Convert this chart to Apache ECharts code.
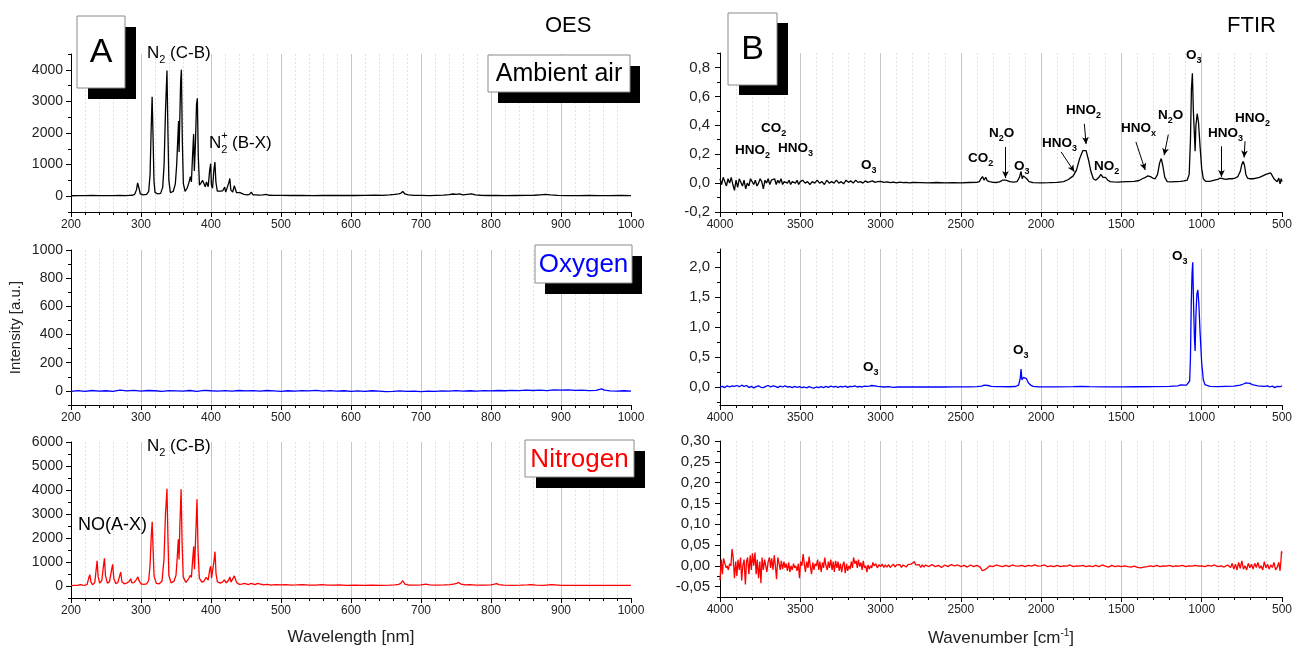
<!DOCTYPE html>
<html>
<head>
<meta charset="utf-8">
<script src="https://cdn.jsdelivr.net/npm/echarts@6/dist/echarts.min.js"></script>
<style>html,body{margin:0;background:#fff}#c{width:1295px;height:650px}</style>
</head>
<body>
<div id="c"></div>
<script>
// OES spectra [wavelength nm, intensity a.u.]
const oesAir = [[200,15],[210,20],[220,18],[230,22],[240,19],[250,21],[260,18],[270,24],[278,20],[284,28],[288,30],[291,60],[293.5,200],[295.2,420],[296.2,470],[297.5,220],[299,70],[303,45],[308,60],[311,150],[313,700],[314.5,2100],[315.9,3150],[317.2,1900],[318.5,500],[320,120],[324,70],[328,90],[331,280],[333,1000],[335,2700],[337.1,3980],[338.5,2000],[339.8,500],[342,110],[346,150],[349,380],[351,1000],[352.7,1900],[353.7,2380],[354.4,1400],[355.3,2300],[356.6,3600],[357.7,4000],[359,1800],[360.5,400],[363,150],[366,260],[368.5,430],[370.5,620],[372,450],[373.5,1200],[375.2,1970],[376.2,800],[377.8,1700],[379.3,2900],[380.5,3100],[381.8,1300],[383.5,350],[386,430],[388,500],[390.5,560],[391.8,300],[393.5,450],[394.6,500],[396,300],[398,800],[399.5,1030],[400.6,350],[402.2,250],[404,800],[405.6,1080],[407,450],[409,160],[411,110],[414,160],[417,180],[419.5,290],[421,130],[423,150],[425.5,430],[426.9,560],[428.3,200],[431,130],[433.3,330],[434.8,380],[436.5,110],[439,60],[441.5,110],[443.5,50],[447,60],[449.5,110],[452,40],[455,55],[457.5,130],[460,40],[463.5,45],[466,100],[468.5,35],[474,40],[479,55],[483,30],[490,28],[500,25],[515,22],[530,26],[545,20],[560,24],[575,22],[590,28],[605,22],[620,25],[635,30],[645,25],[655,40],[662,55],[668,75],[671,90],[674,150],[677,70],[682,40],[690,28],[700,25],[712,20],[722,28],[732,35],[740,50],[746,70],[750,55],[755,75],[760,45],[766,60],[772,75],[778,40],[785,30],[795,22],[808,25],[820,20],[835,22],[850,24],[862,30],[870,45],[878,55],[885,40],[895,25],[910,20],[925,18],[940,22],[955,20],[970,18],[985,22],[1000,20]];

const oesOxygen = [[200,-3],[210,2],[220,-4],[230,3],[240,-2],[250,1],[260,-3],[270,5],[280,0],[290,4],[300,-2],[310,3],[320,1],[330,-3],[340,2],[350,0],[360,-2],[370,3],[380,-4],[390,4],[400,1],[410,-1],[420,2],[430,-2],[440,3],[450,0],[460,2],[470,-1],[480,3],[490,0],[500,-3],[510,1],[520,-2],[530,2],[540,0],[550,4],[560,-1],[570,2],[580,-2],[590,1],[600,-4],[610,0],[620,-3],[630,1],[640,-2],[650,-5],[660,-3],[670,0],[680,-4],[690,-2],[700,-5],[710,-1],[720,-3],[730,0],[740,-2],[750,2],[760,-1],[770,1],[780,-2],[790,2],[800,0],[810,3],[820,1],[830,4],[840,2],[850,5],[860,3],[870,6],[880,2],[890,7],[900,5],[910,8],[920,4],[930,6],[940,2],[950,4],[958,14],[962,5],[970,0],[980,-2],[990,1],[1000,-1]];

const oesNitrogen = [[200,15],[205,25],[210,30],[213,60],[215,120],[217,40],[220,30],[223,70],[225.3,330],[226.9,470],[228.5,160],[231,50],[234,150],[236,700],[237.3,1050],[238.8,380],[241,120],[244,230],[246.3,820],[247.8,1150],[249.3,420],[252,120],[255,180],[257.8,650],[259.5,900],[261.2,300],[264,100],[267,150],[269.5,420],[271,580],[272.7,180],[276,90],[280,130],[283,190],[285.3,300],[287,130],[290,140],[293,260],[295.5,380],[297.2,220],[300,90],[304,70],[308,90],[311,230],[313,900],[314.7,2100],[316,2680],[317.3,1500],[318.7,400],[322,110],[326,90],[330,200],[332.8,1100],[335,3000],[337.1,4050],[338.5,2000],[339.8,450],[343,130],[347,190],[350,450],[351.8,1200],[353.3,1950],[354.4,1100],[355.5,2500],[357.3,4030],[358.7,1800],[360.3,380],[364,150],[368,300],[370.5,450],[372,360],[373.8,1100],[375.3,1650],[376.4,700],[378.3,2200],[380,3610],[381.5,1500],[383.3,330],[387,160],[390,200],[393,360],[394.5,420],[396,240],[398,650],[399.5,830],[400.8,330],[402.6,300],[404.3,1050],[405.7,1430],[407.2,500],[409.2,170],[413,120],[416,150],[419,250],[420.5,280],[422,130],[425,240],[427,380],[428.5,160],[431,150],[433.3,420],[434.7,490],[436.5,150],[440,70],[444,80],[447.5,110],[450,60],[454,60],[457,110],[459.5,50],[463,55],[466.5,110],[469,45],[475,50],[480,65],[486,40],[492,55],[500,45],[507,60],[515,40],[522,45],[531,55],[540,35],[550,40],[558,55],[566,35],[575,40],[584,45],[593,30],[605,35],[618,30],[630,35],[642,30],[655,35],[663,45],[668,70],[671,110],[674,220],[677,80],[683,40],[692,35],[700,45],[707,80],[712,45],[722,35],[733,45],[742,60],[748,90],[751,110],[754,150],[757,80],[763,50],[770,60],[778,40],[790,35],[800,50],[805,80],[808,100],[811,60],[818,35],[830,30],[842,35],[852,50],[858,60],[864,40],[875,30],[886,55],[892,45],[900,30],[915,25],[930,30],[945,25],[960,28],[975,22],[990,25],[1000,22]];

// FTIR spectra [wavenumber cm-1, absorbance]
const ftirAir = [[4000,0.03],[3990,-0.01],[3980,0.04],[3970,0.01],[3960,-0.02],[3950,0.03],[3940,0.00],[3930,0.04],[3920,-0.01],[3910,-0.05],[3900,0.02],[3890,-0.03],[3880,0.03],[3870,0.04],[3860,-0.02],[3850,0.02],[3840,-0.04],[3830,0.00],[3820,-0.02],[3810,0.03],[3800,0.01],[3790,-0.01],[3780,0.02],[3770,-0.02],[3760,0.00],[3750,0.03],[3740,0.01],[3730,-0.04],[3720,0.02],[3710,0.00],[3700,0.03],[3690,-0.01],[3680,0.02],[3670,0.01],[3660,0.03],[3650,-0.01],[3640,0.02],[3630,0.00],[3620,0.03],[3610,-0.01],[3600,0.01],[3590,0.02],[3580,0.00],[3570,0.02],[3560,-0.01],[3550,0.01],[3540,0.02],[3530,0.00],[3520,0.02],[3510,-0.01],[3500,0.01],[3485,0.02],[3470,0.00],[3455,0.01],[3440,-0.01],[3425,0.01],[3410,0.00],[3395,0.02],[3380,0.00],[3365,0.01],[3350,-0.01],[3335,0.02],[3320,0.00],[3305,0.01],[3290,0.00],[3275,0.02],[3260,0.00],[3245,0.01],[3230,-0.005],[3215,0.02],[3200,0.005],[3185,0.015],[3170,0.00],[3155,0.02],[3140,0.005],[3125,0.01],[3110,0.00],[3095,0.015],[3080,0.005],[3065,0.01],[3050,0.015],[3035,0.005],[3020,0.01],[3000,0.012],[2980,0.005],[2960,0.008],[2940,0.003],[2920,0.007],[2900,0.002],[2880,0.006],[2860,0.003],[2840,0.005],[2820,0.002],[2800,0.004],[2750,0.003],[2700,0.002],[2650,0.004],[2600,0.002],[2550,0.003],[2500,0.002],[2450,0.004],[2400,0.005],[2385,0.01],[2375,0.03],[2365,0.045],[2355,0.02],[2345,0.04],[2335,0.015],[2320,0.01],[2300,0.005],[2280,0.004],[2260,0.008],[2240,0.02],[2230,0.03],[2220,0.02],[2210,0.025],[2195,0.01],[2170,0.006],[2150,0.01],[2135,0.04],[2125,0.08],[2118,0.03],[2110,0.05],[2100,0.045],[2090,0.03],[2075,0.01],[2050,0.003],[2000,0.002],[1950,0.003],[1900,0.005],[1860,0.01],[1830,0.025],[1800,0.05],[1780,0.09],[1760,0.17],[1740,0.225],[1730,0.235],[1720,0.225],[1705,0.16],[1690,0.08],[1675,0.03],[1660,0.02],[1640,0.04],[1628,0.06],[1615,0.04],[1600,0.04],[1585,0.02],[1570,0.01],[1550,0.008],[1520,0.006],[1500,0.008],[1460,0.01],[1420,0.012],[1390,0.018],[1370,0.03],[1350,0.04],[1335,0.05],[1320,0.045],[1305,0.035],[1290,0.03],[1275,0.06],[1262,0.14],[1252,0.17],[1242,0.12],[1230,0.04],[1215,0.01],[1190,0.008],[1160,0.01],[1130,0.012],[1110,0.015],[1090,0.02],[1078,0.06],[1070,0.3],[1064,0.65],[1058,0.76],[1052,0.5],[1046,0.35],[1041,0.22],[1036,0.4],[1028,0.48],[1020,0.42],[1010,0.25],[1000,0.1],[990,0.03],[975,0.012],[950,0.012],[920,0.02],[900,0.025],[885,0.035],[877,0.038],[865,0.03],[850,0.025],[830,0.03],[810,0.03],[790,0.035],[775,0.045],[760,0.08],[750,0.13],[741,0.15],[733,0.12],[725,0.06],[715,0.035],[700,0.03],[680,0.03],[660,0.035],[640,0.04],[620,0.05],[600,0.06],[585,0.065],[570,0.07],[560,0.05],[550,0.03],[540,0.04],[530,0.01],[520,0.035],[512,-0.005],[505,0.03],[500,0.01]];

const ftirOxygen = [[4000,0.0],[3985,0.01],[3970,-0.01],[3955,0.02],[3940,0.0],[3925,0.02],[3910,0.01],[3895,0.025],[3880,0.005],[3865,0.03],[3850,0.01],[3835,0.025],[3820,-0.01],[3805,0.01],[3790,-0.015],[3775,0.005],[3760,0.02],[3745,-0.005],[3730,-0.01],[3715,0.01],[3700,0.025],[3685,0.0],[3670,0.02],[3655,0.01],[3640,-0.01],[3625,0.015],[3610,0.0],[3595,0.02],[3580,0.0],[3565,0.005],[3550,-0.01],[3535,0.01],[3520,-0.005],[3505,0.005],[3490,-0.01],[3475,0.0],[3460,-0.015],[3445,0.005],[3430,-0.01],[3415,-0.02],[3400,0.0],[3385,-0.01],[3370,0.005],[3355,-0.01],[3340,0.01],[3325,-0.005],[3310,0.015],[3295,0.0],[3280,0.01],[3265,-0.005],[3250,0.01],[3235,0.0],[3220,0.015],[3205,-0.005],[3190,0.01],[3175,0.005],[3160,0.02],[3145,0.0],[3130,0.01],[3115,0.0],[3100,0.015],[3085,0.01],[3070,0.015],[3055,0.025],[3045,0.03],[3035,0.02],[3020,0.01],[3000,0.005],[2980,0.0],[2950,0.005],[2920,-0.005],[2890,0.0],[2860,0.002],[2800,0.0],[2750,0.002],[2700,0.0],[2650,0.001],[2600,0.0],[2550,0.002],[2500,0.001],[2450,0.003],[2400,0.005],[2370,0.015],[2355,0.03],[2345,0.02],[2330,0.025],[2310,0.01],[2280,0.005],[2250,0.005],[2200,0.004],[2160,0.008],[2140,0.03],[2130,0.15],[2125,0.3],[2120,0.12],[2110,0.16],[2100,0.18],[2092,0.14],[2080,0.07],[2065,0.03],[2050,0.01],[2020,0.004],[1980,0.003],[1900,0.002],[1800,0.005],[1750,0.01],[1700,0.005],[1600,0.003],[1500,0.002],[1400,0.004],[1300,0.006],[1200,0.01],[1150,0.02],[1130,0.035],[1120,0.04],[1110,0.03],[1095,0.03],[1085,0.04],[1075,0.1],[1070,0.5],[1065,1.4],[1060,1.9],[1056,2.08],[1050,1.3],[1045,0.8],[1041,0.6],[1036,1.2],[1030,1.55],[1024,1.62],[1018,1.4],[1010,0.9],[1000,0.4],[990,0.12],[980,0.04],[970,0.02],[950,0.01],[900,0.005],[850,0.01],[800,0.015],[760,0.03],[740,0.05],[725,0.07],[715,0.05],[700,0.06],[685,0.04],[670,0.03],[650,0.02],[630,0.015],[610,0.01],[590,0.02],[575,0.0],[560,0.015],[545,-0.01],[530,0.01],[520,-0.015],[510,0.005],[500,0.02]];

const ftirNitrogen = [[4000,-0.035],[3992,0.015],[3985,-0.02],[3978,0.018],[3970,0.02],[3962,-0.005],[3955,0.0],[3948,-0.01],[3940,0.005],[3932,0.0],[3925,0.04],[3918,0.02],[3910,-0.03],[3902,0.01],[3895,-0.025],[3888,0.015],[3880,-0.01],[3872,0.02],[3865,-0.035],[3858,0.0],[3850,0.015],[3842,-0.045],[3835,0.01],[3828,0.02],[3820,-0.02],[3812,0.025],[3805,-0.01],[3798,0.03],[3790,0.0],[3782,0.032],[3775,-0.02],[3768,0.015],[3760,-0.03],[3752,0.01],[3745,-0.042],[3738,0.02],[3730,-0.01],[3722,0.015],[3715,0.0],[3708,-0.015],[3700,0.01],[3692,0.02],[3685,-0.005],[3678,0.018],[3670,-0.01],[3662,0.025],[3655,0.0],[3648,-0.032],[3640,0.02],[3632,0.005],[3625,-0.01],[3618,0.012],[3610,-0.008],[3602,0.01],[3595,-0.005],[3588,0.005],[3580,-0.012],[3572,0.008],[3565,-0.015],[3558,0.0],[3550,-0.01],[3542,0.005],[3535,-0.005],[3528,0.0],[3520,-0.012],[3512,0.005],[3505,-0.03],[3498,0.01],[3490,0.0],[3482,0.028],[3475,0.005],[3468,-0.015],[3460,0.01],[3452,-0.005],[3445,0.022],[3438,0.0],[3430,-0.02],[3422,0.008],[3415,-0.01],[3408,0.005],[3400,0.0],[3392,0.015],[3385,-0.01],[3378,0.01],[3370,-0.015],[3362,0.008],[3355,-0.005],[3348,0.02],[3340,0.0],[3332,-0.01],[3325,0.01],[3318,-0.005],[3310,0.015],[3302,-0.01],[3295,0.01],[3288,-0.015],[3280,0.012],[3272,-0.005],[3265,0.01],[3258,-0.012],[3250,0.005],[3242,-0.015],[3235,0.002],[3228,0.01],[3220,-0.018],[3212,0.005],[3205,-0.012],[3198,0.0],[3190,-0.008],[3182,0.01],[3175,-0.005],[3168,0.02],[3160,0.005],[3152,0.012],[3145,-0.005],[3138,0.015],[3130,-0.002],[3122,0.008],[3115,-0.01],[3108,0.012],[3100,-0.005],[3092,0.0],[3085,-0.015],[3078,0.002],[3070,-0.008],[3062,0.0],[3055,-0.005],[3048,0.008],[3040,0.0],[3030,0.005],[3020,-0.005],[3010,0.003],[3000,-0.002],[2990,0.004],[2980,-0.004],[2970,0.002],[2960,-0.003],[2950,0.003],[2940,-0.004],[2930,0.0],[2920,0.004],[2910,-0.003],[2900,0.002],[2890,-0.002],[2880,0.003],[2870,-0.004],[2860,0.002],[2850,0.0],[2840,-0.003],[2830,0.003],[2820,0.0],[2810,0.004],[2800,0.002],[2790,0.01],[2780,0.002],[2770,-0.002],[2760,0.003],[2750,-0.004],[2740,0.002],[2730,-0.003],[2720,0.002],[2700,-0.002],[2680,0.003],[2660,-0.002],[2640,0.001],[2620,-0.004],[2600,0.002],[2580,-0.002],[2560,0.003],[2540,0.0],[2520,0.002],[2500,-0.002],[2480,0.001],[2460,-0.003],[2440,0.002],[2420,-0.002],[2400,0.001],[2380,-0.003],[2365,-0.012],[2355,-0.014],[2345,-0.008],[2335,-0.004],[2320,0.0],[2300,-0.002],[2280,0.002],[2260,0.0],[2240,-0.002],[2220,0.001],[2200,-0.002],[2180,0.002],[2160,0.0],[2140,-0.001],[2120,0.001],[2100,-0.002],[2080,0.001],[2060,-0.001],[2040,0.002],[2020,-0.001],[2000,0.0],[1980,0.002],[1960,-0.002],[1940,0.0],[1920,-0.002],[1900,0.001],[1880,-0.002],[1860,0.0],[1840,-0.001],[1820,0.002],[1800,-0.002],[1780,0.0],[1760,-0.001],[1740,0.001],[1720,-0.002],[1700,0.0],[1680,-0.002],[1660,0.001],[1640,-0.002],[1620,0.002],[1600,-0.001],[1580,-0.003],[1560,0.001],[1540,-0.002],[1520,0.0],[1500,-0.002],[1480,0.0],[1460,-0.002],[1440,-0.003],[1420,-0.001],[1400,-0.004],[1380,-0.005],[1360,-0.003],[1340,-0.002],[1320,0.0],[1300,-0.002],[1280,0.001],[1260,-0.002],[1240,0.0],[1220,-0.001],[1200,0.001],[1180,-0.002],[1160,0.0],[1140,-0.001],[1120,0.001],[1100,-0.002],[1080,0.0],[1060,-0.001],[1040,0.001],[1020,-0.001],[1000,0.0],[980,-0.002],[960,0.001],[940,-0.001],[920,0.002],[900,-0.002],[880,0.0],[860,-0.003],[840,0.002],[820,-0.004],[810,0.006],[800,-0.008],[790,0.004],[780,-0.01],[770,0.008],[760,-0.006],[750,0.012],[740,-0.008],[730,0.0],[720,-0.01],[710,0.006],[700,-0.005],[690,0.004],[680,-0.008],[670,0.006],[660,-0.004],[650,0.008],[640,-0.006],[630,0.0],[620,-0.01],[610,0.01],[600,-0.005],[590,0.004],[580,-0.008],[570,0.002],[560,-0.004],[550,0.008],[540,-0.01],[530,-0.004],[520,0.008],[512,-0.012],[507,0.01],[503,0.035],[500,0.03]];

// arrows from FTIR labels to peaks: [from, to] in [cm-1, absorbance]
const ftirArrows = [
  [[2222, 0.25], [2222, 0.035]],
  [[1876, 0.216], [1793, 0.078]],
  [[1731, 0.41], [1720, 0.27]],
  [[1410, 0.285], [1352, 0.09]],
  [[1208, 0.335], [1234, 0.193]],
  [[877, 0.255], [877, 0.043]],
  [[730, 0.29], [736, 0.177]]
];

// y-axis ticks per panel
const yTicks = [
  { min: -500, max: 4500, major: [0, 1000, 2000, 3000, 4000], minor: [-500, 500, 1500, 2500, 3500, 4500], dec: -1 },
  { min: -100, max: 1000, major: [0, 200, 400, 600, 800, 1000], minor: [-100, 100, 300, 500, 700, 900], dec: -1 },
  { min: -500, max: 6000, major: [0, 1000, 2000, 3000, 4000, 5000, 6000], minor: [-500, 500, 1500, 2500, 3500, 4500, 5500], dec: -1 },
  { min: -0.2, max: 0.9, major: [-0.2, 0, 0.2, 0.4, 0.6, 0.8], minor: [-0.1, 0.1, 0.3, 0.5, 0.7, 0.9], dec: 1 },
  { min: -0.3, max: 2.3, major: [0, 0.5, 1.0, 1.5, 2.0], minor: [-0.25, 0.25, 0.75, 1.25, 1.75, 2.25], dec: 1 },
  { min: -0.075, max: 0.3, major: [-0.05, 0, 0.05, 0.1, 0.15, 0.2, 0.25, 0.3], minor: [-0.075, -0.025, 0.025, 0.075, 0.125, 0.175, 0.225, 0.275], dec: 2 }
];

const FONT = '"Liberation Sans", Arial, Helvetica, sans-serif';
const BLACK = '#000', BLUE = '#0000ff', RED = '#ff0000';

const grids = [
  { left: 71, top: 54, width: 560, height: 158 },
  { left: 71, top: 250, width: 560, height: 155 },
  { left: 71, top: 442, width: 560, height: 156 },
  { left: 720, top: 53, width: 563, height: 159 },
  { left: 720, top: 249, width: 563, height: 156 },
  { left: 720, top: 441, width: 563, height: 156 }
];
const seriesData = [oesAir, oesOxygen, oesNitrogen, ftirAir, ftirOxygen, ftirNitrogen];
const colors = [BLACK, BLUE, RED, BLACK, BLUE, RED];

const measure = document.createElement('canvas').getContext('2d');

// text made of pieces: 'n' normal, 'b' subscript, 'p' superscript; third item true = no advance
function richLabel(x, y, parts, size, weight, color) {
  const out = [];
  let cx = x;
  parts.forEach(p => {
    const s = p[1] === 'n' ? size : Math.round(size * 0.65);
    const font = `${weight} ${s}px ${FONT}`;
    measure.font = font;
    const w = measure.measureText(p[0]).width;
    const dy = p[1] === 'b' ? size * 0.42 : p[1] === 'p' ? -size * 0.4 : 0;
    out.push({
      type: 'text', x: cx, y: y + dy, silent: true, z: 50,
      style: { text: p[0], font, fill: color, textAlign: 'left', textVerticalAlign: 'middle', align: 'left', verticalAlign: 'middle' }
    });
    if (!p[2]) cx += w;
  });
  return out;
}

function boxLabel(x, y, w, h, dx, dy, text, size, color) {
  return [
    { type: 'rect', z: 40, silent: true, shape: { x: x + dx, y: y + dy, width: w, height: h }, style: { fill: '#000' } },
    { type: 'rect', z: 41, silent: true, shape: { x, y, width: w, height: h }, style: { fill: '#fff', stroke: '#8a8a8a', lineWidth: 1 } },
    { type: 'text', z: 42, silent: true, x: x + w / 2, y: y + h / 2 + 1,
      style: { text, font: `${size}px ${FONT}`, fill: color, textAlign: 'center', textVerticalAlign: 'middle', align: 'center', verticalAlign: 'middle' } }
  ];
}

const fmt = dec => v => dec < 0 ? String(v) : v.toFixed(dec).replace('.', ',');

const xAxes = grids.map((g, i) => {
  const ftir = i >= 3;
  return {
    type: 'value', gridIndex: i,
    min: ftir ? 500 : 200, max: ftir ? 4000 : 1000, interval: ftir ? 500 : 100,
    inverse: ftir,
    axisLine: { onZero: false, lineStyle: { color: '#000', width: 1 } },
    axisTick: { length: 5, lineStyle: { color: '#000' } },
    minorTick: { show: true, splitNumber: 5, length: 3, lineStyle: { color: '#000' } },
    splitLine: { show: true, showMinLine: false, showMaxLine: false, lineStyle: { color: '#c6c6c6', width: 1 } },
    minorSplitLine: { show: true, lineStyle: { color: '#e2e2e2', type: [2, 2] } },
    axisLabel: { fontSize: 12, color: '#222', margin: 7, fontFamily: FONT, showMinLabel: true, showMaxLabel: true, formatter: v => String(v) },
    name: i === 2 ? 'Wavelength [nm]' : i === 5 ? 'Wavenumber [cm{sup|-1}]' : '',
    nameLocation: 'middle', nameGap: 31,
    nameTextStyle: { fontSize: 17, color: '#222', fontFamily: FONT,
      rich: { sup: { fontSize: 10, color: '#222', fontFamily: FONT, verticalAlign: 'top', lineHeight: 20 } } }
  };
});

const yAxes = [];
yTicks.forEach((t, i) => {
  yAxes.push({
    type: 'value', gridIndex: i, min: t.min, max: t.max,
    axisLine: { show: true, onZero: false, lineStyle: { color: '#000', width: 1 } },
    axisTick: { show: true, length: 5, customValues: t.major, lineStyle: { color: '#000' } },
    axisLabel: { customValues: t.major, formatter: fmt(t.dec), fontSize: i >= 3 ? 15 : 14, color: '#222', margin: i >= 3 ? 10 : 8, fontFamily: FONT },
    splitLine: { show: false },
    name: i === 1 ? 'Intensity [a.u.]' : '',
    nameLocation: 'middle', nameGap: 48,
    nameTextStyle: { fontSize: 15, color: '#222', fontFamily: FONT }
  });
  yAxes.push({
    type: 'value', gridIndex: i, min: t.min, max: t.max, position: 'left',
    axisLine: { show: false },
    axisTick: { show: true, length: 3, customValues: t.minor, lineStyle: { color: '#000' } },
    axisLabel: { show: false },
    splitLine: { show: false }
  });
});

const series = seriesData.map((d, i) => ({
  type: 'line', xAxisIndex: i, yAxisIndex: 2 * i, data: d,
  symbol: 'none', showSymbol: false, silent: true, clip: true,
  lineStyle: { width: 1.3, color: colors[i] }, itemStyle: { color: colors[i] },
  markLine: i === 3 ? {
    silent: true, symbol: ['none', 'arrow'], symbolSize: [5, 7],
    label: { show: false },
    lineStyle: { color: '#000', width: 1, type: 'solid' },
    data: ftirArrows.map(a => [{ coord: a[0] }, { coord: a[1] }])
  } : undefined
}));

const B = 'bold', FS = 13.5;
const graphic = [].concat(
  boxLabel(77, 16, 48, 72, 11, 11, 'A', 34, '#000'),
  boxLabel(488, 55, 142, 37, 10, 11, 'Ambient air', 25, '#000'),
  boxLabel(728, 13, 49, 72, 11, 10, 'B', 34, '#000'),
  boxLabel(535, 245, 97, 38, 10, 11, 'Oxygen', 26, BLUE),
  boxLabel(525, 440, 109, 37, 11, 11, 'Nitrogen', 26, RED),
  richLabel(545, 26, [['OES', 'n']], 22, 'normal', '#000'),
  richLabel(1227, 26, [['FTIR', 'n']], 22, 'normal', '#000'),
  richLabel(147, 53, [['N', 'n'], ['2', 'b'], [' (C-B)', 'n']], 17, 'normal', '#000'),
  richLabel(209, 143, [['N', 'n'], ['+', 'p', true], ['2', 'b'], [' (B-X)', 'n']], 17, 'normal', '#000'),
  richLabel(147, 446, [['N', 'n'], ['2', 'b'], [' (C-B)', 'n']], 17, 'normal', '#000'),
  richLabel(78, 525, [['NO(A-X)', 'n']], 18, 'normal', '#000'),
  richLabel(735, 150, [['HNO', 'n'], ['2', 'b']], FS, B, '#000'),
  richLabel(761, 128, [['CO', 'n'], ['2', 'b']], FS, B, '#000'),
  richLabel(778, 148, [['HNO', 'n'], ['3', 'b']], FS, B, '#000'),
  richLabel(861, 165, [['O', 'n'], ['3', 'b']], FS, B, '#000'),
  richLabel(968, 158, [['CO', 'n'], ['2', 'b']], FS, B, '#000'),
  richLabel(989, 133, [['N', 'n'], ['2', 'b'], ['O', 'n']], FS, B, '#000'),
  richLabel(1014, 166, [['O', 'n'], ['3', 'b']], FS, B, '#000'),
  richLabel(1042, 143, [['HNO', 'n'], ['3', 'b']], FS, B, '#000'),
  richLabel(1066, 110, [['HNO', 'n'], ['2', 'b']], FS, B, '#000'),
  richLabel(1094, 166, [['NO', 'n'], ['2', 'b']], FS, B, '#000'),
  richLabel(1121, 128, [['HNO', 'n'], ['x', 'b']], FS, B, '#000'),
  richLabel(1158, 115, [['N', 'n'], ['2', 'b'], ['O', 'n']], FS, B, '#000'),
  richLabel(1186, 55, [['O', 'n'], ['3', 'b']], FS, B, '#000'),
  richLabel(1208, 133, [['HNO', 'n'], ['3', 'b']], FS, B, '#000'),
  richLabel(1235, 118, [['HNO', 'n'], ['2', 'b']], FS, B, '#000'),
  richLabel(863, 367, [['O', 'n'], ['3', 'b']], FS, B, '#000'),
  richLabel(1013, 350, [['O', 'n'], ['3', 'b']], FS, B, '#000'),
  richLabel(1172, 256, [['O', 'n'], ['3', 'b']], FS, B, '#000')
);

const chart = echarts.init(document.getElementById('c'), null, { renderer: 'canvas' });
chart.setOption({
  animation: false,
  backgroundColor: '#fff',
  textStyle: { fontFamily: FONT },
  grid: grids,
  xAxis: xAxes,
  yAxis: yAxes,
  series,
  graphic
});
</script>
</body>
</html>
